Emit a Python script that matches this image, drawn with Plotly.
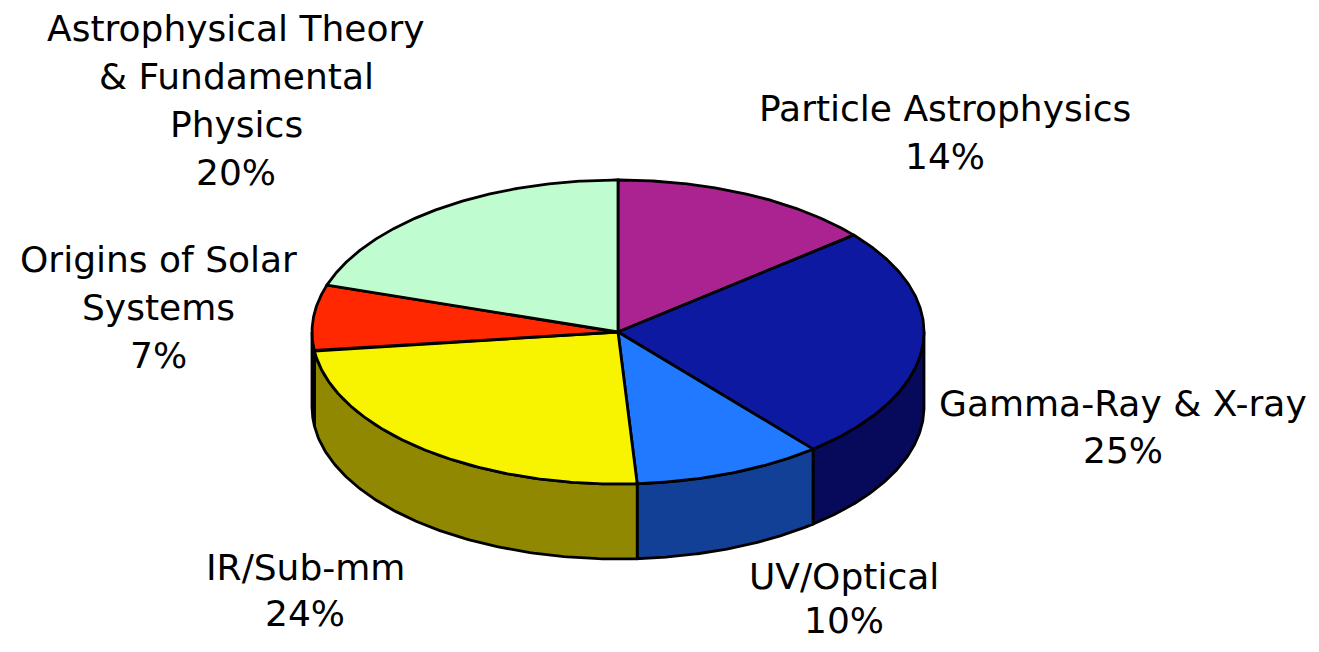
import numpy as np
import plotly.graph_objects as go

# data
categories = ["Particle Astrophysics", "Gamma-Ray & X-ray", "UV/Optical",
              "IR/Sub-mm", "Origins of Solar Systems",
              "Astrophysical Theory & Fundamental Physics"]
shares = [14, 25, 10, 24, 7, 20]
label_lines = [
    ["Particle Astrophysics"],
    ["Gamma-Ray & X-ray"],
    ["UV/Optical"],
    ["IR/Sub-mm"],
    ["Origins of Solar", "Systems"],
    ["Astrophysical Theory", "& Fundamental", "Physics"],
]
top_colors = ["#AB2390", "#0D19A0", "#2079FF", "#F8F400", "#FF2800", "#BFFCCF"]
side_colors = ["#6A1558", "#070A5A", "#124096", "#8F8800", "#A01A00", "#7FA889"]

# geometry of the drawn disc (screen pixel space; page body has an 8px margin)
CX, CY, RX, RY, DEPTH = 618, 332, 306, 152, 75
label_pos = [(945, 108), (1123, 403), (844, 576), (305, 567), (158, 259), (236, 28)]
label_step = [48, 47, 44, 46, 48, 48]


def ell(theta_deg, dy=0.0):
    t = np.radians(theta_deg)
    return CX + RX * np.sin(t), CY - RY * np.cos(t) + dy


fig = go.Figure()
total = sum(shares)
bounds = np.cumsum([0] + shares) / total * 360.0

# side walls (front half only)
for i in range(len(shares)):
    a0, a1 = max(bounds[i], 90.0), min(bounds[i + 1], 270.0)
    if a1 <= a0:
        continue
    th = np.linspace(a0, a1, 120)
    xt, yt = ell(th)
    xb, yb = ell(th[::-1], DEPTH)
    fig.add_trace(go.Scatter(
        x=np.concatenate([xt, xb, xt[:1]]), y=np.concatenate([yt, yb, yt[:1]]),
        mode="lines", fill="toself", fillcolor=side_colors[i],
        line=dict(color="black", width=2.8), hoverinfo="skip", showlegend=False))

# top faces
for i in range(len(shares)):
    th = np.linspace(bounds[i], bounds[i + 1], 200)
    xt, yt = ell(th)
    fig.add_trace(go.Scatter(
        x=np.concatenate([[CX], xt, [CX]]), y=np.concatenate([[CY], yt, [CY]]),
        mode="lines", fill="toself", fillcolor=top_colors[i],
        line=dict(color="black", width=2.8), name=categories[i],
        hoverinfo="name", showlegend=False))

# labels
for i, lines in enumerate(label_lines):
    lx, ly = label_pos[i]
    for j, txt in enumerate(lines + [f"{shares[i]}%"]):
        fig.add_annotation(x=lx, y=ly + j * label_step[i], text=txt, showarrow=False,
                           xanchor="center", yanchor="middle",
                           font=dict(family="DejaVu Sans", size=36, color="black"))

fig.update_layout(
    width=1303, height=636, margin=dict(l=0, r=0, t=0, b=0),
    paper_bgcolor="white", plot_bgcolor="white",
    xaxis=dict(range=[8, 1311], visible=False, fixedrange=True),
    yaxis=dict(range=[644, 8], visible=False, fixedrange=True),
)
fig.write_html("out.html")
